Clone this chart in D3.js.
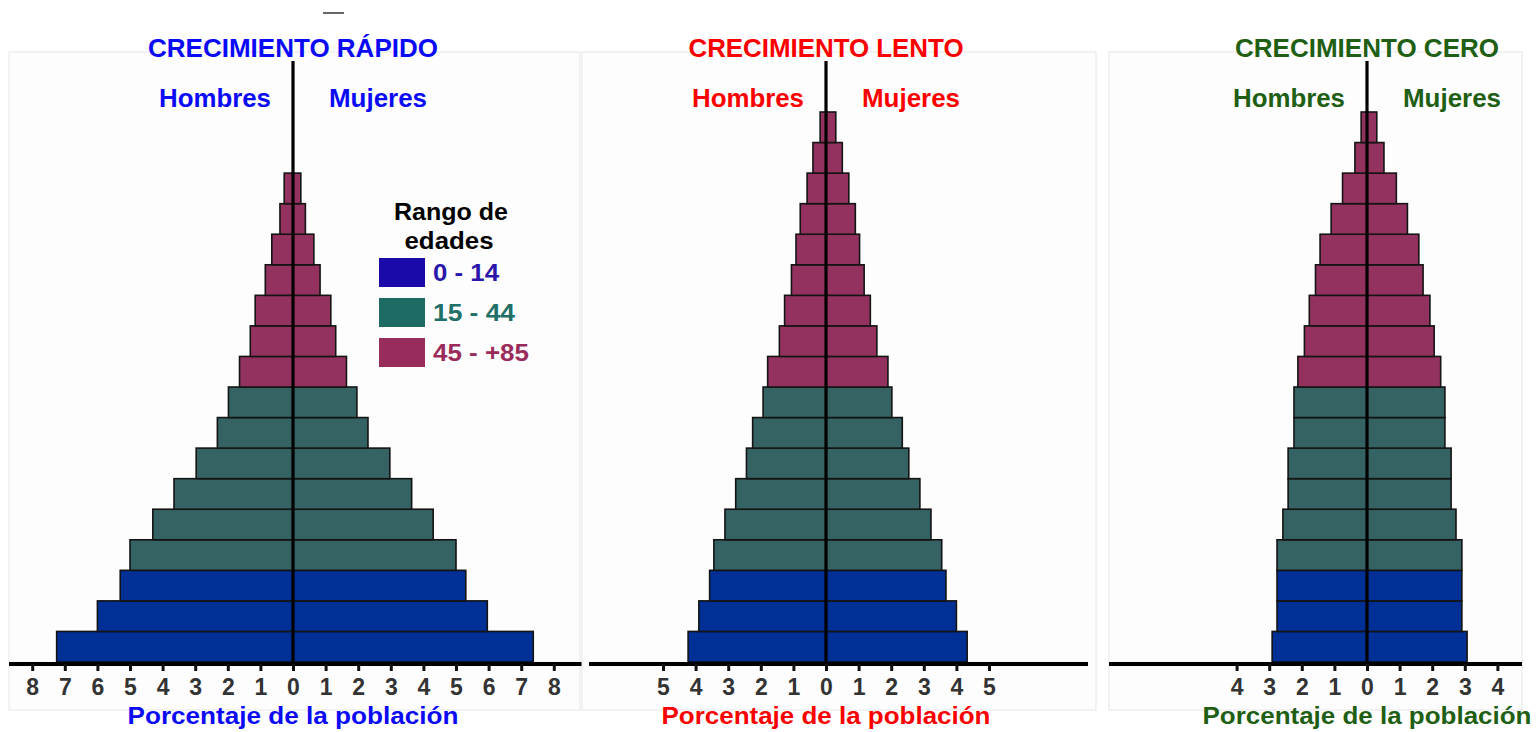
<!DOCTYPE html>
<html>
<head>
<meta charset="utf-8">
<script src="https://cdn.jsdelivr.net/npm/d3@7"></script>
<style>
  body { margin: 0; background: #ffffff; }
  svg { display: block; }
  text { font-family: "Liberation Sans", Arial, sans-serif; font-weight: bold; }
</style>
</head>
<body>
<svg id="chart" width="1536" height="732"></svg>
<script>
// ---------------- DATA ----------------
const ageGroups = ["0-4","5-9","10-14","15-19","20-24","25-29","30-34","35-39","40-44",
                   "45-49","50-54","55-59","60-64","65-69","70-74","75-79","80-84","85+"];
const ageRanges = ["0 - 14", "15 - 44", "45 - +85"];
const legendTitle = ["Rango de", "edades"];

const panelTitles = ["CRECIMIENTO RÁPIDO", "CRECIMIENTO LENTO", "CRECIMIENTO CERO"];
const sexLabels = ["Hombres", "Mujeres"];
const axisTitle = "Porcentaje de la población";

// % of population per age group (youngest first)
const hombresRapido = [7.25, 6.0, 5.3, 5.0, 4.3, 3.65, 2.97, 2.32, 1.98, 1.64, 1.31, 1.16, 0.85, 0.65, 0.4, 0.27];
const mujeresRapido = [7.37, 5.96, 5.3, 5.0, 4.3, 3.64, 2.97, 2.3, 1.96, 1.64, 1.31, 1.16, 0.83, 0.64, 0.38, 0.24];

const hombresLento = [4.23, 3.9, 3.57, 3.44, 3.1, 2.77, 2.44, 2.25, 1.93, 1.79, 1.43, 1.27, 1.06, 0.92, 0.79, 0.58, 0.4, 0.18];
const mujeresLento = [4.33, 4.0, 3.68, 3.55, 3.22, 2.88, 2.54, 2.34, 2.02, 1.9, 1.56, 1.36, 1.17, 1.03, 0.9, 0.7, 0.5, 0.3];

const hombresCero = [2.91, 2.76, 2.76, 2.76, 2.58, 2.42, 2.42, 2.24, 2.24, 2.12, 1.92, 1.77, 1.58, 1.44, 1.1, 0.75, 0.37, 0.18];
const mujeresCero = [3.07, 2.91, 2.91, 2.91, 2.73, 2.58, 2.58, 2.39, 2.39, 2.26, 2.06, 1.93, 1.72, 1.59, 1.24, 0.9, 0.52, 0.3];

const ticksRapido = [-8,-7,-6,-5,-4,-3,-2,-1,0,1,2,3,4,5,6,7,8];
const ticksLento  = [-5,-4,-3,-2,-1,0,1,2,3,4,5];
const ticksCero   = [-4,-3,-2,-1,0,1,2,3,4];

// ---------------- STYLE / LAYOUT ----------------
const barColors = ["#002f96", "#356262", "#94325f"];
const legendColors = ["#1a0aaa", "#1d6b63", "#982c5a"];
const legendTextColors = ["#2a16a8", "#217068", "#9a2c5c"];
const titleColors = ["#0a0af5", "#fa0000", "#1f5f14"];

const panels = [
  { title: panelTitles[0], color: titleColors[0], center: 293,  maxT: 8, ticks: ticksRapido,
    men: hombresRapido, women: mujeresRapido, box: [9, 52, 571, 658], axis: [9, 582],
    titleLen: 290, axisLen: 331 },
  { title: panelTitles[1], color: titleColors[1], center: 826,  maxT: 5, ticks: ticksLento,
    men: hombresLento, women: mujeresLento, box: [582, 52, 514, 658], axis: [589, 1088],
    titleLen: 275, axisLen: 329 },
  { title: panelTitles[2], color: titleColors[2], center: 1367, maxT: 4, ticks: ticksCero,
    men: hombresCero, women: mujeresCero, box: [1109, 52, 413, 658], axis: [1109, 1522],
    titleLen: 264, axisLen: 329 }
];

const unit = 32.6;      // px per percentage point
const yTop = 112, yBottom = 662, axisY = 664;

const svg = d3.select("#chart");

// stray dash at top of the original image
svg.append("line").attr("x1", 323).attr("x2", 344).attr("y1", 13).attr("y2", 13)
  .attr("stroke", "#666").attr("stroke-width", 2);

const y = d3.scaleBand().domain(ageGroups).range([yBottom, yTop]).paddingInner(0);
const colorOf = d3.scaleThreshold().domain([3, 9]).range(barColors);

function label(g, str, x, yy, size, color, anchor, len) {
  const t = g.append("text").attr("x", x).attr("y", yy)
    .attr("font-size", size).attr("fill", color).attr("text-anchor", anchor).text(str);
  if (len) t.attr("textLength", len).attr("lengthAdjust", "spacingAndGlyphs");
  return t;
}

panels.forEach(p => {
  const g = svg.append("g");
  const x = d3.scaleLinear().domain([-p.maxT, p.maxT])
    .range([p.center - p.maxT * unit, p.center + p.maxT * unit]);

  // panel background
  g.append("rect").attr("x", p.box[0]).attr("y", p.box[1]).attr("width", p.box[2]).attr("height", p.box[3])
    .attr("fill", "#fdfdfd").attr("stroke", "#e6e6e6").attr("stroke-width", 1);

  const menData = p.men.map((v, i) => ({ age: ageGroups[i], v, i }));
  const womenData = p.women.map((v, i) => ({ age: ageGroups[i], v, i }));

  g.selectAll("rect.m").data(menData).enter().append("rect").attr("class", "m")
    .attr("x", d => x(-d.v)).attr("width", d => x(0) - x(-d.v))
    .attr("y", d => y(d.age)).attr("height", y.bandwidth())
    .attr("fill", d => colorOf(d.i)).attr("stroke", "#141414").attr("stroke-width", 1.6);

  g.selectAll("rect.w").data(womenData).enter().append("rect").attr("class", "w")
    .attr("x", x(0)).attr("width", d => x(d.v) - x(0))
    .attr("y", d => y(d.age)).attr("height", y.bandwidth())
    .attr("fill", d => colorOf(d.i)).attr("stroke", "#141414").attr("stroke-width", 1.6);

  // centre line
  g.append("line").attr("x1", x(0)).attr("x2", x(0)).attr("y1", 61).attr("y2", axisY)
    .attr("stroke", "#000").attr("stroke-width", 3.2);

  // axis baseline
  g.append("line").attr("x1", p.axis[0]).attr("x2", p.axis[1]).attr("y1", axisY).attr("y2", axisY)
    .attr("stroke", "#000").attr("stroke-width", 4);

  const ax = g.append("g").attr("transform", `translate(0,${axisY})`)
    .call(d3.axisBottom(x).tickValues(p.ticks).tickFormat(d => Math.abs(d)).tickSize(7));
  ax.select(".domain").remove();
  ax.selectAll(".tick line").attr("stroke", "#111").attr("stroke-width", 3);
  ax.selectAll(".tick text").attr("y", 31).attr("dy", 0)
    .attr("font-size", 23).attr("font-family", "Liberation Sans, Arial, sans-serif")
    .attr("font-weight", "bold").attr("fill", "#333");

  // titles
  label(g, p.title, x(0), 57, 26, p.color, "middle", p.titleLen);
  label(g, sexLabels[0], x(0) - 78, 107, 25, p.color, "middle", 112);
  label(g, sexLabels[1], x(0) + 85, 107, 25, p.color, "middle", 98);
  label(g, axisTitle, x(0), 724, 23, p.color, "middle", p.axisLen);
});

// legend
const lg = svg.append("g");
label(lg, legendTitle[0], 451, 220, 23, "#000", "middle", 114);
label(lg, legendTitle[1], 449, 249, 23, "#000", "middle", 89);
const legY = d3.scaleBand().domain(ageRanges).range([258, 367]).paddingInner(0.275);
lg.selectAll("rect.sw").data(ageRanges).enter().append("rect").attr("class", "sw")
  .attr("x", 379).attr("width", 46).attr("y", d => legY(d)).attr("height", legY.bandwidth())
  .attr("fill", (d, i) => legendColors[i]);
const legLens = [66, 82, 96];
ageRanges.forEach((r, i) => {
  label(lg, r, 433, legY(r) + 23, 23, legendTextColors[i], "start", legLens[i]);
});
</script>
</body>
</html>
